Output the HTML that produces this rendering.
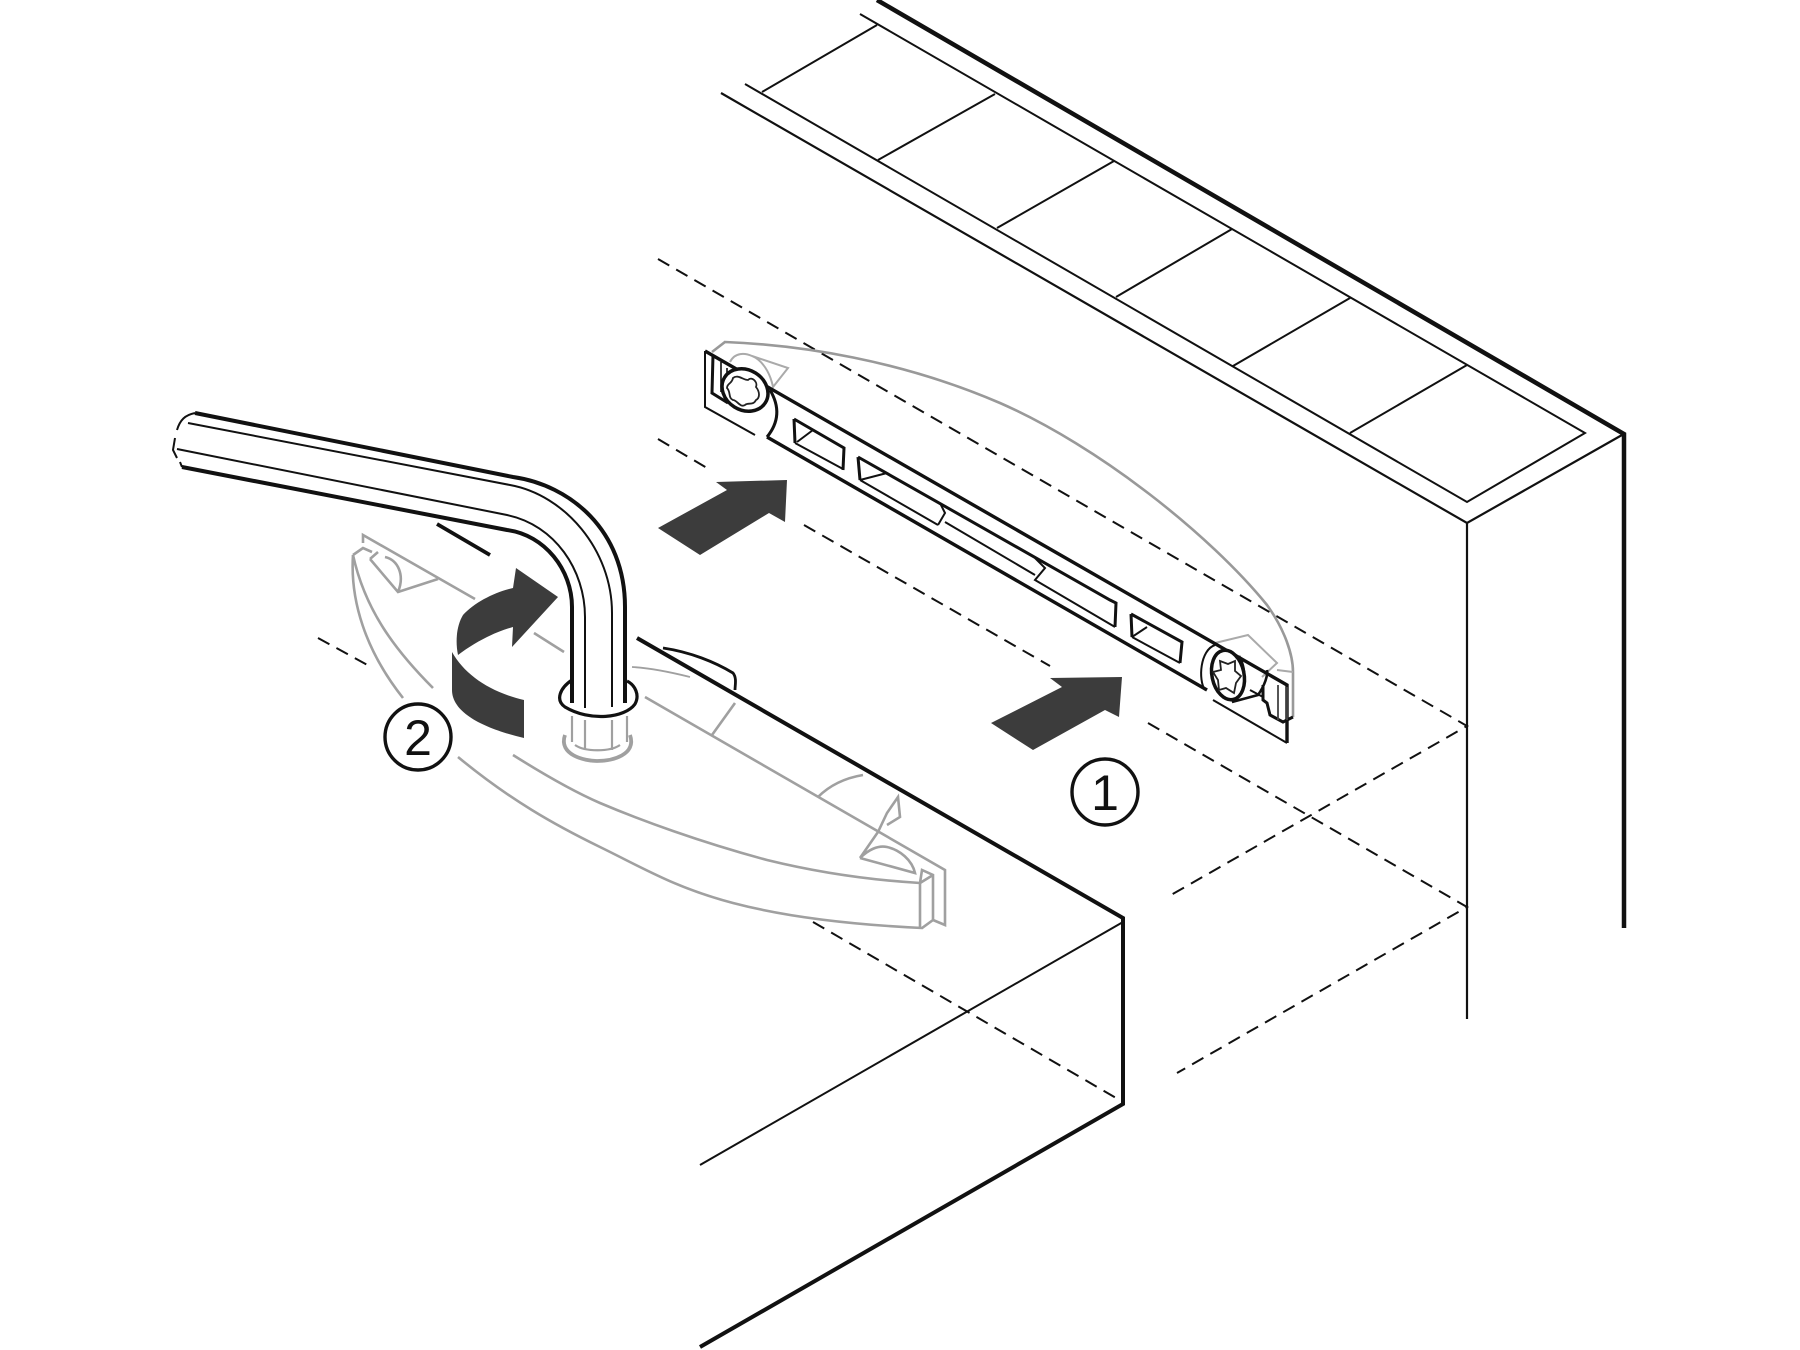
<!DOCTYPE html>
<html><head><meta charset="utf-8"><style>html,body{margin:0;padding:0;background:#fff}svg{display:block}</style></head><body>
<svg width="1800" height="1350" viewBox="0 0 1800 1350" xmlns="http://www.w3.org/2000/svg" fill="none" stroke-linecap="butt" stroke-linejoin="miter">
<!-- cabinet -->
<g stroke="#111">
<path d="M877,0L1624,434V928" stroke-width="4.5"/>
<path d="M721,93L1467,523L1622,435M1467,523V1019" stroke-width="2.2"/>
<path d="M860,14L1585,433L1467,502L745,84M762,92L877,25M878,160L995,94M997,228L1114,161M1116,297L1232,229M1233,366L1350,298M1350,433L1467,365" stroke-width="2"/>
<path d="M637,638L1123,918V1104L700,1347" stroke-width="4"/>
<path d="M1123,922L700,1165" stroke-width="2"/>
</g>
<!-- dashed -->
<g stroke="#111" stroke-width="2" stroke-dasharray="13 8">
<path d="M658,259L1467,726L1171,895"/>
<path d="M658,439L712,471M804,525L1050,666M1148,723L1467,907L1177,1073"/>
<path d="M813,922L1123,1102M318,638L373,668"/>
</g>
<!-- gray level arc and hexes -->
<g stroke="#999" stroke-width="2.6">
<path d="M712,352L725,342C800,345 900,360 1000,403C1100,447 1210,535 1267,605C1285,630 1293,655 1293,672V717"/>
</g>
<g stroke="#aaa" stroke-width="2">
<path d="M730,362C735,352 745,353 752,356C762,360 770,372 773,387L788,368L752,356"/>
<path d="M1215,643L1248,635L1277,663L1262,677M1277,670L1293,672"/>
</g>
<!-- level bar -->
<g stroke="#111" stroke-width="3.4">
<path d="M705,351L1287,685V743"/>
<path d="M767,437L1207,690"/>
<path d="M770,390Q785,415 767,437" stroke-width="3"/>
<path d="M794,419L844,448L843,470M794,419L795,443" stroke-width="3"/>
<path d="M858,457L1110,600L1116,603L1115,627M858,457L860,480" stroke-width="3"/>
<path d="M1131,614L1182,642L1180,663M1131,614L1132,637" stroke-width="3"/>
</g>
<g stroke="#111" stroke-width="2">
<path d="M705,351V407L755,435"/>
<path d="M713,355L712,393L728,403" stroke-width="3"/>
<path d="M721,362V392M727,368V385" stroke-width="1.6"/>
<path d="M795,443L843,469M797,442L813,430"/>
<path d="M860,480L938,525M860,480L887,473"/>
<path d="M940,503L945,513L938,525M945,522L1035,575"/>
<path d="M1035,558L1045,568L1035,580L1115,627"/>
<path d="M1132,637L1180,663M1132,637L1147,627"/>
<path d="M1213,700L1287,743"/>
<path d="M1215,645C1200,650 1198,680 1205,690"/>
<path d="M1239,656C1248,672 1245,695 1232,702L1258,695C1265,685 1268,675 1267,670" stroke-width="2.6"/>
<path d="M1263,685V700L1267,703L1270,715L1283,722L1293,717" stroke-width="3"/>
<path d="M1278,685V720M1287,687V720" stroke-width="1.8" stroke="#444"/>
<path d="M1263,697L1250,690" stroke-width="2"/>
</g>
<ellipse cx="745" cy="390" rx="24" ry="20" transform="rotate(32 745 390)" stroke="#111" stroke-width="3.5" fill="#fff"/>
<path d="M733,378C738,374 743,380 748,380C752,376 758,382 756,387C760,392 760,398 756,400C753,406 748,402 745,405C740,408 737,400 733,400C728,398 731,392 727,388C727,383 732,384 733,378Z" stroke="#222" stroke-width="1.8"/>
<ellipse cx="1228" cy="675" rx="16" ry="25" transform="rotate(-12 1228 675)" stroke="#111" stroke-width="3.5" fill="#fff"/>
<path d="M1220,661L1228,664L1235,661L1235,671L1241,676L1236,683L1234,693L1226,688L1219,690L1218,680L1213,672L1221,670Z" stroke="#222" stroke-width="1.8"/>
<!-- straight arrows -->
<polygon points="658,528 727,490 716,482 787,480 785,522 769,513 700,555" fill="#3c3c3c"/>
<polygon points="991,723 1062,687 1050,678 1122,677 1119,717 1105,710 1033,750" fill="#3c3c3c"/>
<!-- gray handle -->
<g stroke="#a0a0a0" stroke-width="2.6">
<path d="M363,543V535L475,599M534,633L564,652M645,697L945,870V925L933,920"/>
<path d="M353,555L363,548L372,552M353,555C350,600 365,650 403,698M458,757C510,800 555,825 600,847C645,869 676,888 733,903C790,918 860,925 922,928L933,920V875L922,870L920,883V928"/>
<path d="M513,755C540,772 570,790 600,803C640,820 700,842 767,860C820,873 870,880 920,883L933,875M353,555C365,610 395,650 433,688"/>
<path d="M370,559L398,592L438,579M385,557C398,560 405,575 398,592M370,559L378,552"/>
<path d="M860,858L915,873C912,860 900,850 887,847C878,845 868,850 860,858M860,858L878,832L887,813L898,797L900,817L887,825"/>
<path d="M818,797C830,785 845,778 863,775M712,735L735,703"/>
<path d="M632,667C650,668 670,672 690,677" stroke-width="1.8"/>
</g>
<path d="M663,648C690,652 715,662 733,673C737,678 735,685 735,690" stroke="#111" stroke-width="2.8"/>
<!-- rotation arrow -->
<path d="M458,655C455,640 457,625 463,615C475,602 495,592 513,588L516,568L558,597L512,647L513,627C495,632 475,642 458,655Z" fill="#3c3c3c"/>
<path d="M452,652C465,675 490,692 524,700V738C490,730 452,715 452,690Z" fill="#3c3c3c"/>
<!-- lower hex key stub -->
<g stroke="#a0a0a0" stroke-width="2.2">
<path d="M572,716V742M585,720V750M612,720V750M627,716V742"/>
<path d="M565,735C558,755 585,761 597,761C612,761 637,755 630,735" stroke-width="3.8"/>
<path d="M575,745C585,752 610,752 620,745"/>
</g>
<!-- wrench -->
<g stroke="#111">
<path d="M195,413L513,477C570,485 625,530 625,607V703" stroke-width="4"/>
<path d="M182,467L507,530C545,535 572,570 572,607V703" stroke-width="4"/>
<path d="M188,423L510,485C565,495 612,550 612,613V707" stroke-width="2"/>
<path d="M177,449L507,515C555,525 585,570 585,617V708" stroke-width="2"/>
<path d="M195,413C185,415 180,420 177,430M175,438L173,450L177,458M180,462L182,467" stroke-width="2"/>
<path d="M437,524L490,555" stroke-width="3.8"/>
<path d="M572,680C560,688 555,700 565,707C590,722 625,718 635,704C640,695 635,685 627,681" stroke-width="3.2"/>
</g>
<!-- numbers -->
<circle cx="1105" cy="792" r="33" stroke="#111" stroke-width="3.4" fill="#fff"/>
<text x="1105" y="810" font-family="'Liberation Sans',sans-serif" font-size="50" text-anchor="middle" fill="#111">1</text>
<circle cx="418" cy="737" r="33" stroke="#111" stroke-width="3.4" fill="#fff"/>
<text x="418" y="755" font-family="'Liberation Sans',sans-serif" font-size="50" text-anchor="middle" fill="#111">2</text>
</svg>
</body></html>
